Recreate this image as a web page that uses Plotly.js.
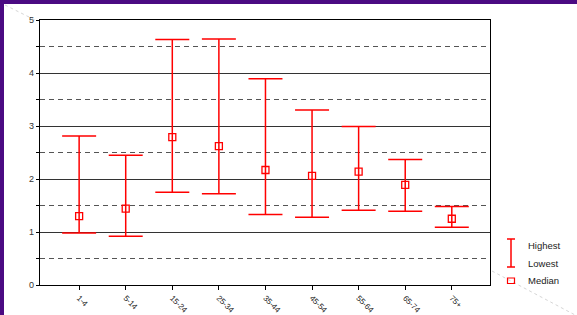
<!DOCTYPE html>
<html>
<head>
<meta charset="utf-8">
<script src="https://cdn.plot.ly/plotly-3.0.1.min.js"></script>
<style>
  html, body { margin: 0; padding: 0; background: #ffffff; }
  #chart { width: 577px; height: 315px; }
</style>
</head>
<body>
<div id="chart"></div>
<script>
// ---- data ----
const ageGroups = ["1-4", "5-14", "15-24", "25-34", "35-44", "45-54", "55-64", "65-74", "75+"];
const highest   = [2.81, 2.45, 4.63, 4.64, 3.89, 3.30, 2.99, 2.37, 1.48];
const lowest    = [0.98, 0.92, 1.75, 1.72, 1.33, 1.28, 1.41, 1.39, 1.09];
const median    = [1.30, 1.44, 2.79, 2.62, 2.17, 2.06, 2.14, 1.89, 1.25];
const legendLabels = ["Highest", "Lowest", "Median"];

const xIdx = ageGroups.map((_, i) => i);
const errPlus  = highest.map((h, i) => h - median[i]);
const errMinus = median.map((m, i) => m - lowest[i]);

const RED = "#ff0000";
const FONT = "Arial, 'Liberation Sans', sans-serif";

// plot area in pixels: x 40..490, y 20..285
const L = 40, R = 490, T = 20, B = 285;
const px = v => (v - L) / (R - L);
const py = v => (B - v) / (B - T);

const traces = [{
  type: "scatter",
  mode: "markers",
  x: xIdx,
  y: median,
  showlegend: false,
  hoverinfo: "skip",
  marker: { symbol: "square-open", size: 7, color: RED, line: { color: RED, width: 1.3 } },
  error_y: {
    type: "data", symmetric: false,
    array: errPlus, arrayminus: errMinus,
    color: RED, thickness: 1.5, width: 17
  }
}];

const shapes = [
  // purple slide border (top and left)
  { type: "rect", xref: "paper", yref: "paper", x0: px(0), x1: px(577), y0: py(4), y1: py(-1), fillcolor: "#4b0a82", line: { width: 0 }, layer: "below" },
  { type: "rect", xref: "paper", yref: "paper", x0: px(-1), x1: px(4), y0: py(316), y1: py(0), fillcolor: "#4b0a82", line: { width: 0 }, layer: "below" },
  // faint decorative diagonals
  { type: "line", xref: "paper", yref: "paper", x0: px(5), y0: py(5), x1: px(37), y1: py(21), line: { color: "#d6d6d6", width: 1, dash: "dot" }, layer: "below" },
  { type: "line", xref: "paper", yref: "paper", x0: px(492), y0: py(271), x1: px(577), y1: py(316), line: { color: "#d6d6d6", width: 1, dash: "dot" }, layer: "below" },
  // legend I-beam
  { type: "line", xref: "paper", yref: "paper", x0: px(511), x1: px(511), y0: py(239), y1: py(267), line: { color: RED, width: 1.5 } },
  { type: "line", xref: "paper", yref: "paper", x0: px(507), x1: px(515), y0: py(239), y1: py(239), line: { color: RED, width: 1.5 } },
  { type: "line", xref: "paper", yref: "paper", x0: px(507), x1: px(515), y0: py(267), y1: py(267), line: { color: RED, width: 1.5 } },
  // legend median box
  { type: "rect", xref: "paper", yref: "paper", x0: px(507.5), x1: px(514.5), y0: py(283.5), y1: py(278), line: { color: RED, width: 1.2 }, fillcolor: "rgba(0,0,0,0)" }
];

const legY = [245.5, 263.5, 280.5];
const annotations = legendLabels.map((t, i) => ({
  text: t, xref: "paper", yref: "paper", x: px(526), y: py(legY[i]),
  xanchor: "left", yanchor: "middle", showarrow: false,
  font: { family: FONT, size: 9.5, color: "#222222" }
}));

const layout = {
  width: 577, height: 315,
  margin: { l: L, r: 577 - R, t: T, b: 315 - B, pad: 0 },
  paper_bgcolor: "#ffffff",
  plot_bgcolor: "#ffffff",
  showlegend: false,
  xaxis: {
    range: [-0.84, 8.82],
    tickmode: "array", tickvals: xIdx, ticktext: ageGroups,
    tickangle: 45,
    ticks: "outside", ticklen: 4, tickcolor: "#000", tickwidth: 1,
    showgrid: false, zeroline: false,
    showline: true, mirror: true, linecolor: "#000", linewidth: 1.2,
    tickfont: { family: FONT, size: 8, color: "#222" }
  },
  yaxis: {
    range: [0, 5], dtick: 1, tick0: 0,
    ticks: "outside", ticklen: 3, tickcolor: "#000", tickwidth: 1,
    showgrid: true, gridcolor: "#333333", gridwidth: 1,
    zeroline: false,
    showline: true, mirror: true, linecolor: "#000", linewidth: 1.2,
    tickfont: { family: FONT, size: 9, color: "#333" },
    minor: {
      dtick: 0.5, tick0: 0, showgrid: true, gridcolor: "#555555", gridwidth: 1,
      griddash: "5px,4px", ticks: "outside", ticklen: 3, tickcolor: "#000"
    }
  },
  shapes: shapes,
  annotations: annotations
};

Plotly.newPlot("chart", traces, layout, { staticPlot: true, displayModeBar: false });
</script>
</body>
</html>
